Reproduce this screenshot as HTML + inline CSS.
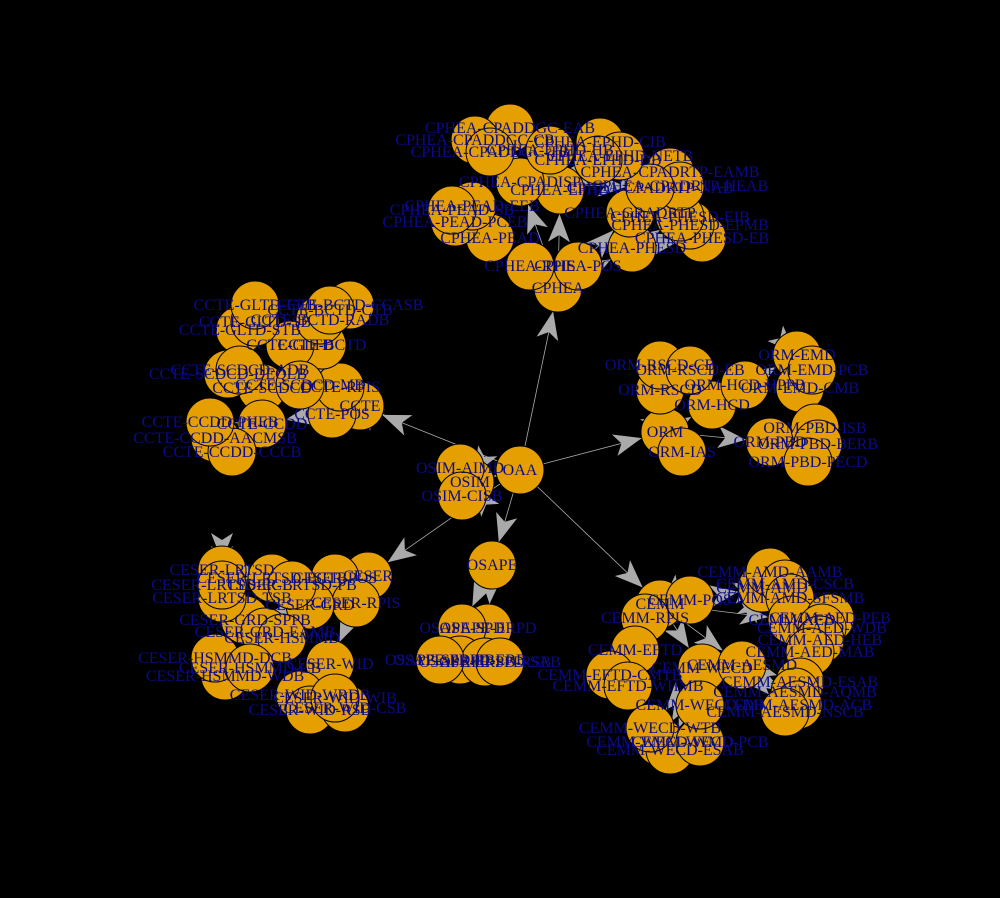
<!DOCTYPE html>
<html><head><meta charset="utf-8"><style>
html,body{margin:0;padding:0;background:#000;}
svg{display:block;}
text{font-family:"Liberation Serif",serif;font-size:16px;fill:#0b0b8a;}
</style></head>
<body>
<svg id="g" width="1000" height="898" viewBox="0 0 1000 898">
<rect width="1000" height="898" fill="#000"/>
<g id="edges"></g>
<g id="nodes"></g>
</svg>
<script>
const nodes = [
["OAA",520,470,""],["OSIM",470,482,"OAA"],["OSIM-AIMD",460,468,"OSIM"],["OSIM-CISB",462,496,"OSIM"],
["CPHEA",558,288,"OAA"],["CPHEA-RPIS",530,266,"CPHEA"],["CPHEA-POS",578,266,"CPHEA"],
["CPHEA-PEAD",490,238,"CPHEA"],["CPHEA-PEAD-PCEB",455,222,"CPHEA-PEAD"],["CPHEA-PEAD-EEB",472,206,"CPHEA-PEAD"],["CPHEA-PEAD-SB",452,210,"CPHEA-PEAD"],
["CPHEA-PHESD",632,248,"CPHEA"],["CPHEA-PHESD-EB",702,238,"CPHEA-PHESD"],["CPHEA-PHESD-EPMB",690,225,"CPHEA-PHESD"],["CPHEA-PHESD-EIB",680,217,"CPHEA-PHESD"],
["CPHEA-GRADRTP",630,213,"CPHEA"],["CPHEA-CPADRTP-EAMB",670,172,"CPHEA-CPADISP"],["CPHEA-CPADRTP-HEAB",680,186,"CPHEA-CPADISP"],["CPHEA-CPADRTP-NAB",650,188,"CPHEA-CPADISP"],
["CPHEA-EPHD",560,190,"CPHEA"],["CPHEA-CPADISP",520,182,"CPHEA"],
["CPHEA-CPADDGC-EAB",510,128,"CPHEA-CPADISP"],["CPHEA-CPADDGC-CB",475,140,"CPHEA-CPADISP"],["CPHEA-CPADDGC-TB",490,152,"CPHEA-CPADISP"],
["CPHEA-EPHD-HB",550,150,"CPHEA-EPHD"],["CPHEA-EPHD-CIB",600,142,"CPHEA-EPHD"],["CPHEA-EPHD-NETB",620,156,"CPHEA-EPHD"],["CPHEA-EPHD-DB",598,160,"CPHEA-EPHD"],
["CCTE",360,406,"OAA"],["CCTE-POS",332,414,"CCTE"],["CCTE-RPIS",340,387,"CCTE"],["CCTE-BCTD",322,345,"CCTE"],["CCTE-GLTD",290,345,"CCTE"],
["CCTE-GLTD-STB",240,330,"CCTE-GLTD"],["CCTE-GLTD-SB",255,322,"CCTE-GLTD"],["CCTE-GLTD-EEB",255,305,"CCTE-GLTD"],["CCTE-BCTD-RADB",320,320,"CCTE-BCTD"],["CCTE-BCTD-CCASB",350,305,"CCTE-BCTD"],["CCTE-BCTD-CTB",330,310,"CCTE-BCTD"],
["CCTE-SCDCD",262,388,"CCTE"],["CCTE-SCDCD-DEQLB",228,374,"CCTE-SCDCD"],["CCTE-SCDCD-ADB",240,370,"CCTE-SCDCD"],["CCTE-SCDCD-MB",300,385,"CCTE-SCDCD"],
["CCTE-CCDD",262,424,"CCTE"],["CCTE-CCDD-AACMSB",215,438,"CCTE-CCDD"],["CCTE-CCDD-CCCB",232,452,"CCTE-CCDD"],["CCTE-CCDD-PHEB",210,422,"CCTE-CCDD"],
["ORM",665,432,"OAA"],["ORM-IAS",682,452,"ORM"],["ORM-HCD",712,405,"ORM"],["ORM-RSCD",660,390,"ORM"],["ORM-HCD-HPPB",745,385,"ORM-HCD"],
["ORM-RSCD-CB",660,365,"ORM-RSCD"],["ORM-RSCD-EB",690,370,"ORM-RSCD"],["ORM-EMD",797,355,"ORM"],["ORM-EMD-CMB",800,388,"ORM-EMD"],["ORM-EMD-PCB",812,370,"ORM-EMD"],
["ORM-PBD",770,442,"ORM"],["ORM-PBD-ISB",815,428,"ORM-PBD"],["ORM-PBD-BERB",818,444,"ORM-PBD"],["ORM-PBD-PECD",808,462,"ORM-PBD"],
["OSAPE",492,565,"OAA"],["OSAPE-ERPD",488,628,"OSAPE"],["OSAPE-SPD",462,628,"OSAPE"],
["OSAPE-ERPD-ERB",460,660,"OSAPE-ERPD"],["OSAPE-ERPD-RSB",485,662,"OSAPE-ERPD"],["OSAPE-SPD-SAB",500,662,"OSAPE-SPD"],["OSAPE-SPD-PB",440,660,"OSAPE-SPD"],
["CESER",368,576,"OAA"],["CESER-POS",335,578,"CESER"],["CESER-RPIS",356,603,"CESER"],["CESER-GRD",310,605,"CESER"],["CESER-GRD-SPPB",245,620,"CESER-GRD"],["CESER-GRD-EAMB",265,632,"CESER-GRD"],
["CESER-LRTSD",222,570,"CESER"],["CESER-LRTSD-TSB",222,598,"CESER-LRTSD"],["CESER-LRTSD-ECB",222,585,"CESER-LRTSD"],["CESER-LRTSD-ECTB",272,578,"CESER-LRTSD"],["CESER-LRTSD-PB",292,585,"CESER-LRTSD"],
["CESER-HSMMD",282,638,"CESER"],["CESER-HSMMD-WDB",225,676,"CESER-HSMMD"],["CESER-HSMMD-DCB",215,658,"CESER-HSMMD"],["CESER-HSMMD-CB",250,668,"CESER-HSMMD"],
["CESER-WID",330,664,"CESER"],["CESER-WID-WRDB",300,695,"CESER-WID"],["CESER-WID-RSB",310,710,"CESER-WID"],["CESER-WID-CSB",345,708,"CESER-WID"],["CESER-WID-WIB",335,698,"CESER-WID"],
["CEMM",660,604,"OAA"],["CEMM-POS",690,600,"CEMM"],["CEMM-RPIS",645,618,"CEMM"],
["CEMM-AMD",762,588,"CEMM"],["CEMM-AMD-AAMB",770,572,"CEMM-AMD"],["CEMM-AMD-CSCB",785,584,"CEMM-AMD"],["CEMM-AMD-SFSMB",790,598,"CEMM-AMD"],
["CEMM-AED",792,620,"CEMM"],["CEMM-AED-PEB",830,618,"CEMM-AED"],["CEMM-AED-WDB",822,628,"CEMM-AED"],["CEMM-AED-HEB",820,640,"CEMM-AED"],["CEMM-AED-MAB",810,652,"CEMM-AED"],
["CEMM-EFTD",635,650,"CEMM"],["CEMM-EFTD-CMTB",610,675,"CEMM-EFTD"],["CEMM-EFTD-WHMB",628,686,"CEMM-EFTD"],
["CEMM-WECD",702,668,"CEMM"],["CEMM-AESMD",742,665,"CEMM"],["CEMM-AESMD-ESAB",800,682,"CEMM-AESMD"],["CEMM-AESMD-AQMB",795,692,"CEMM-AESMD"],["CEMM-AESMD-ACB",798,705,"CEMM-AESMD"],["CEMM-AESMD-NSCB",785,712,"CEMM-AESMD"],
["CEMM-WECD-WMD",660,742,"CEMM-WECD"],["CEMM-WECD-ESAB",670,750,"CEMM-WECD"],["CEMM-WECD-PCB",700,742,"CEMM-WECD"],["CEMM-WECD-WTB",650,728,"CEMM-WECD"],["CEMM-WECD-DB",700,705,"CEMM-WECD"]
];
const R = 24;
const NS = "http://www.w3.org/2000/svg";
const byName = {};
nodes.forEach(n => byName[n[0]] = n);
const eg = document.getElementById('edges');
const ng = document.getElementById('nodes');
nodes.forEach(n => {
  if (!n[3]) return;
  const p = byName[n[3]];
  const dx = n[1]-p[1], dy = n[2]-p[2], L = Math.hypot(dx,dy);
  if (L < 1) return;
  const ux = dx/L, uy = dy/L;
  const line = document.createElementNS(NS,'line');
  line.setAttribute('x1',p[1]); line.setAttribute('y1',p[2]);
  line.setAttribute('x2',n[1]-ux*R); line.setAttribute('y2',n[2]-uy*R);
  line.setAttribute('stroke','#aaa'); line.setAttribute('stroke-width','0.8');
  
  
  eg.appendChild(line);
  const tx = n[1]-ux*R, ty = n[2]-uy*R;
  const al = 28, aw = 11;
  const bx = tx-ux*al, by = ty-uy*al;
  const mx = tx-ux*al*0.75, my = ty-uy*al*0.75;
  const pts = `${tx},${ty} ${bx-uy*aw},${by+ux*aw} ${mx},${my} ${bx+uy*aw},${by-ux*aw}`;
  const poly = document.createElementNS(NS,'polygon');
  poly.setAttribute('points',pts); poly.setAttribute('fill','#aaa');
  
  
  eg.appendChild(poly);
});
nodes.forEach(n => {
  const c = document.createElementNS(NS,'circle');
  c.setAttribute('cx',n[1]); c.setAttribute('cy',n[2]); c.setAttribute('r',R);
  c.setAttribute('fill','#E69F00'); c.setAttribute('stroke','#000'); c.setAttribute('stroke-width','1');
  
  
  ng.appendChild(c);
});
nodes.forEach(n => {
  const t = document.createElementNS(NS,'text');
  t.setAttribute('x',n[1]); t.setAttribute('y',n[2]+5);
  t.setAttribute('text-anchor','middle');
  t.textContent = n[0];
  
  
  ng.appendChild(t);
});
</script>
</body></html>
